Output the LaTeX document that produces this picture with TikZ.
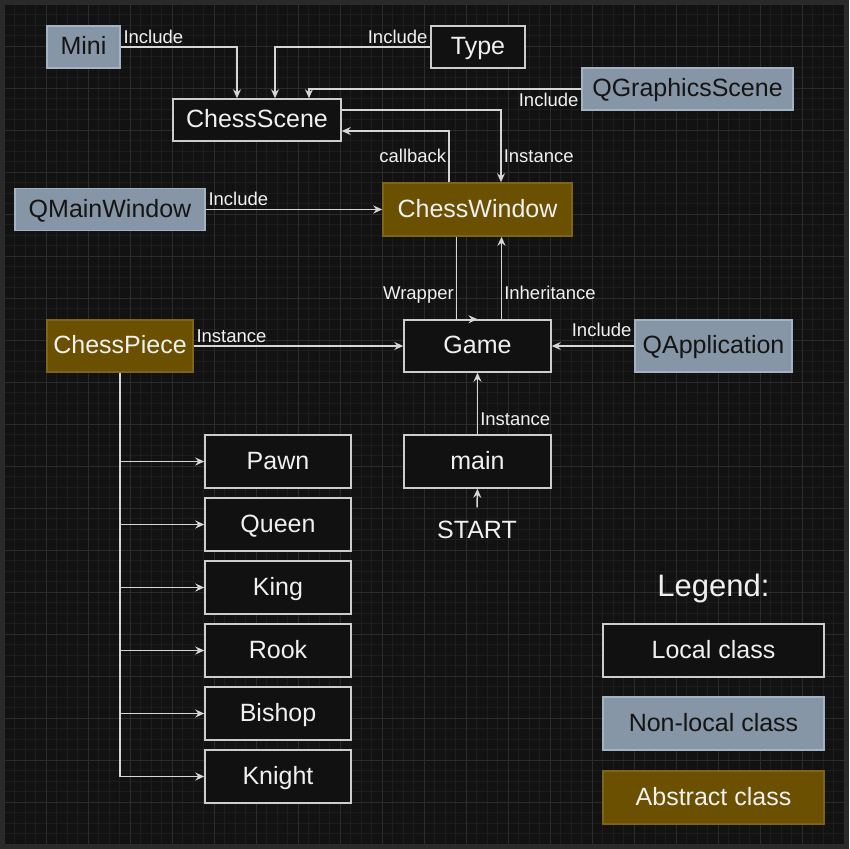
\documentclass[tikz,border=0pt]{standalone}
\usepackage{fontspec}
\setmainfont{Liberation Sans}
\usetikzlibrary{arrows.meta}
\definecolor{frame}{HTML}{2A2A2A}
\definecolor{canvas}{HTML}{121212}
\definecolor{minorgrid}{HTML}{1D1D1D}
\definecolor{majorgrid}{HTML}{2C2C2C}
\definecolor{localfill}{HTML}{111111}
\definecolor{localline}{HTML}{CDCDCD}
\definecolor{extfill}{HTML}{8796A6}
\definecolor{extline}{HTML}{A4B3C3}
\definecolor{exttext}{HTML}{141414}
\definecolor{absfill}{HTML}{6A5000}
\definecolor{absline}{HTML}{7D6418}
\definecolor{linkgray}{HTML}{D6D6D6}
\definecolor{labeltext}{HTML}{F0F0F0}
\begin{document}
\begin{tikzpicture}[x=1pt,y=-1pt,line width=1.5pt,
  class node/.style={rectangle,draw,inner sep=0pt,minimum height=42pt,text height=18pt,text depth=3pt,font=\fontsize{25}{30}\selectfont},
  local node/.style={class node,fill=localfill,draw=localline,text=labeltext},
  ext node/.style={class node,fill=extfill,draw=extline,text=exttext},
  abs node/.style={class node,fill=absfill,draw=absline,text=labeltext},
  link/.style={draw=linkgray,-{Stealth[length=9pt,width=8pt,inset=3pt]}},
  lbl/.style={font=\fontsize{18.5}{22}\selectfont,text=labeltext,inner sep=2pt,text height=13.5pt,text depth=1pt}]
% canvas and grid
\fill[frame] (0,0) rectangle (849,849);
\fill[canvas] (4,4) rectangle (845,845);
\useasboundingbox (0,0) rectangle (849,849);
\foreach \i in {0,...,80}{
  \draw[minorgrid,line width=0.8pt] (4+10.5*\i,4) -- (4+10.5*\i,845);
  \draw[minorgrid,line width=0.8pt] (4,4+10.5*\i) -- (845,4+10.5*\i);
}
\foreach \i in {0,...,20}{
  \draw[majorgrid,line width=0.8pt] (4+42*\i,4) -- (4+42*\i,845);
  \draw[majorgrid,line width=0.8pt] (4,4+42*\i) -- (845,4+42*\i);
}
% classes
\node[ext node,minimum width=73pt] (mini) at (83.5,47) {Mini};
\node[local node,minimum width=94pt] (type) at (478,47) {Type};
\node[local node,minimum width=168pt] (scene) at (257,120) {ChessScene};
\node[ext node,minimum width=211pt] (gscene) at (687.5,89) {QGraphicsScene};
\node[abs node,minimum width=189pt,minimum height=53pt] (window) at (477.5,209.5) {ChessWindow};
\node[ext node,minimum width=190pt] (mainwin) at (110,209.5) {QMainWindow};
\node[abs node,minimum width=146pt,minimum height=52pt] (piece) at (120,346) {ChessPiece};
\node[local node,minimum width=147pt,minimum height=52pt] (game) at (477.5,346) {Game};
\node[ext node,minimum width=157pt,minimum height=52pt] (qapp) at (713.5,346) {QApplication};
\node[local node,minimum width=147pt,minimum height=53pt] (main) at (477.5,461.5) {main};
\node[inner sep=0pt,text=labeltext,font=\fontsize{25}{30}\selectfont] (start) at (477,530) {START};
\foreach \name/\txt [count=\i from 0] in {pawn/Pawn,queen/Queen,king/King,rook/Rook,bishop/Bishop,knight/Knight}
  \node[local node,minimum width=146pt,minimum height=53pt] (\name) at (278,461.5+63*\i) {\txt};
% legend
\node[text=labeltext,font=\fontsize{31}{36}\selectfont] (legend) at (713.5,588) {Legend:};
\node[local node,minimum width=221pt,minimum height=53pt] (leglocal) at (713.5,650.5) {Local class};
\node[ext node,minimum width=221pt,minimum height=53pt] (legext) at (713.5,723.5) {Non-local class};
\node[abs node,minimum width=221pt,minimum height=53pt] (legabs) at (713.5,797.5) {Abstract class};
% connectors
\draw[link] (mini.east) -| ([xshift=-20pt]scene.north) node[lbl,at start,above right]{Include};
\draw[link] (type.west) -| ([xshift=18pt]scene.north) node[lbl,at start,above left]{Include};
\draw[link] (gscene.west) -| ([xshift=52pt]scene.north) node[lbl,at start,below left,yshift=-1pt]{Include};
\draw[link] ([yshift=10pt]scene.east) -| ([xshift=23.5pt]window.north) node[lbl,pos=0.82,right]{Instance};
\draw[link] ([xshift=-28.5pt]window.north) |- ([yshift=-11pt]scene.east) node[lbl,pos=0.25,left]{callback};
\draw[link] (mainwin.east) -- (window.west) node[lbl,at start,above right]{Include};
\draw[link] ([xshift=-21pt]window.south) |- (game.north) node[lbl,pos=0.345,left]{Wrapper};
\draw[link] ([xshift=24pt]game.north) -- ([xshift=24pt]window.south) node[lbl,pos=0.31,right]{Inheritance};
\draw[link] (piece.east) -- (game.west) node[lbl,at start,above right]{Instance};
\draw[link] (qapp.west) -- (game.east) node[lbl,at start,above left,yshift=6pt]{Include};
\draw[link] (main.north) -- (game.south) node[lbl,pos=0.24,right]{Instance};
\draw[link] ([yshift=13pt]start.north) -- (main.south);
\foreach \name in {pawn,queen,king,rook,bishop,knight}
  \draw[link] (piece.south) |- (\name.west);
\end{tikzpicture}
\end{document}
